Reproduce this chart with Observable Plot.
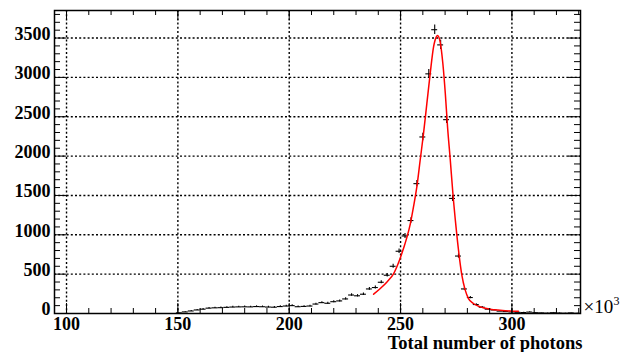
<!DOCTYPE html>
<html>
<head>
<meta charset="utf-8">
<script src="https://cdn.jsdelivr.net/npm/d3@7"></script>
<script src="https://cdn.jsdelivr.net/npm/@observablehq/plot@0.6"></script>
<style>
  html, body { margin: 0; padding: 0; background: white; }
  svg { display: block; }
</style>
</head>
<body>
<div id="chart"></div>
<script>
// Histogram bin centres (×10^3 photons) and counts
const binX = [150.67,153.33,156,158.67,161.33,164,166.67,169.33,172,174.67,177.33,180,182.67,185.33,188,190.67,193.33,196,198.67,201.33,204,206.67,209.33,212,214.67,217.33,220,222.67,225.33,228,230.67,233.33,236,238.67,241.33,244,246.67,249.33,252,254.67,257.33,260,262.67,265.33,268,270.67,273.33,276,278.67,281.33,284,286.67,289.33,292,294.67,297.33,300,302.67,305.33,308,310.67,313.33,316,318.67,321.33,324,326.67,329.33];
const counts = [8,20,32,45,55,68,72,74,78,82,84,85,84,88,86,82,80,88,95,100,86,90,95,120,138,130,150,160,185,235,225,245,312,330,397,486,600,791,985,1181,1650,2243,3045,3606,3413,2463,1462,730,312,203,114,80,55,45,30,25,20,15,12,18,10,8,5,10,6,4,8,3];
const binWidth = 2.6667;

// Fit curve
const fitX = [237.9,240.9,243.9,246.9,249.5,251.3,252.9,254.4,255.8,257.4,258.8,260.3,261.8,263.3,264.8,266.0,266.6,267.8,269.0,270.1,271.1,272.3,273.5,274.9,276.2,277.5,279.0,280.5,282.7,285.8,290.2,294.7,299.2,302.9];
const fitY = [245,317,401,508,677,825,973,1143,1354,1629,1947,2285,2666,3047,3385,3512,3533,3449,3174,2793,2370,1960,1524,1100,762,490,300,190,127,84,55,42,33,29];

// Axis ticks
const xMajor = [100,150,200,250,300];
const xMinor = [100,110,120,130,140,150,160,170,180,190,200,210,220,230,240,250,260,270,280,290,300,310,320,330];
const yMajor = [0,500,1000,1500,2000,2500,3000,3500];
const yGrid = [500,1000,1500,2000,2500,3000,3500];
const yMinor = [100,200,300,400,600,700,800,900,1100,1200,1300,1400,1600,1700,1800,1900,2100,2200,2300,2400,2600,2700,2800,2900,3100,3200,3300,3400,3600,3700,3800];

const xLabel = "Total number of photons";

const hist = binX.map((x, i) => ({x, y: counts[i]}));
const fit = fitX.map((x, i) => ({x, y: fitY[i]}));

const W = 632, H = 352, mL = 54, mR = 52, mT = 10, mB = 39;
const fw = W - mL - mR, fh = H - mT - mB;
const font = "'Liberation Serif', 'Times New Roman', serif";
const dots = "2,2.2";

const chart = Plot.plot({
  width: W, height: H,
  marginLeft: mL, marginRight: mR, marginTop: mT, marginBottom: mB,
  style: {fontFamily: font, fontWeight: "bold", fontSize: "18px", background: "white", color: "black"},
  x: {domain: [94.6, 330.8]},
  y: {domain: [0, 3850]},
  marks: [
    Plot.ruleX(xMajor, {x: d => d, stroke: "black", strokeWidth: 1.4, strokeDasharray: dots}),
    Plot.ruleY(yGrid, {y: d => d, stroke: "black", strokeWidth: 1.4, strokeDasharray: dots}),
    Plot.ruleY(hist, {y: "y", x1: d => d.x - binWidth / 2, x2: d => d.x + binWidth / 2, stroke: "black", strokeWidth: 1.1}),
    Plot.ruleX(hist, {x: "x", y1: d => d.y - Math.sqrt(d.y), y2: d => d.y + Math.sqrt(d.y), stroke: "black", strokeWidth: 1.1}),
    Plot.line(fit, {x: "x", y: "y", stroke: "red", strokeWidth: 1.5, curve: "monotone-x"}),
    // ticks: bottom / top
    Plot.ruleX(xMinor, {x: d => d, insetTop: fh - 5, stroke: "black"}),
    Plot.ruleX(xMajor, {x: d => d, insetTop: fh - 10, stroke: "black"}),
    Plot.ruleX(xMinor, {x: d => d, insetBottom: fh - 5, stroke: "black"}),
    Plot.ruleX(xMajor, {x: d => d, insetBottom: fh - 10, stroke: "black"}),
    // ticks: left / right
    Plot.ruleY(yMinor, {y: d => d, insetRight: fw - 6, stroke: "black"}),
    Plot.ruleY(yMajor, {y: d => d, insetRight: fw - 12, stroke: "black"}),
    Plot.ruleY(yMinor, {y: d => d, insetLeft: fw - 6, stroke: "black"}),
    Plot.ruleY(yMajor, {y: d => d, insetLeft: fw - 12, stroke: "black"}),
    Plot.frame({stroke: "black", strokeWidth: 1.5}),
    Plot.axisX({ticks: xMajor, tickSize: 0, tickPadding: 4, tickFormat: d => String(d), fontSize: 18, fontWeight: "bold", label: null}),
    Plot.axisY({ticks: yMajor, tickSize: 0, tickPadding: 4, dy: -4, tickFormat: d => String(d), fontSize: 18, fontWeight: "bold", label: null}),
    Plot.text([xLabel], {text: d => d, frameAnchor: "bottom-right", textAnchor: "end", lineAnchor: "bottom", dx: 2, dy: 35, fontSize: 18.5, fontWeight: "bold"}),
    Plot.text(["×10"], {text: d => d, frameAnchor: "bottom-right", textAnchor: "start", lineAnchor: "bottom", dx: 3, dy: -1, fontSize: 19, fontWeight: "normal"}),
    Plot.text(["3"], {text: d => d, frameAnchor: "bottom-right", textAnchor: "start", lineAnchor: "bottom", dx: 33, dy: -9, fontSize: 12, fontWeight: "normal"})
  ]
});
document.getElementById("chart").appendChild(chart);
</script>
</body>
</html>
